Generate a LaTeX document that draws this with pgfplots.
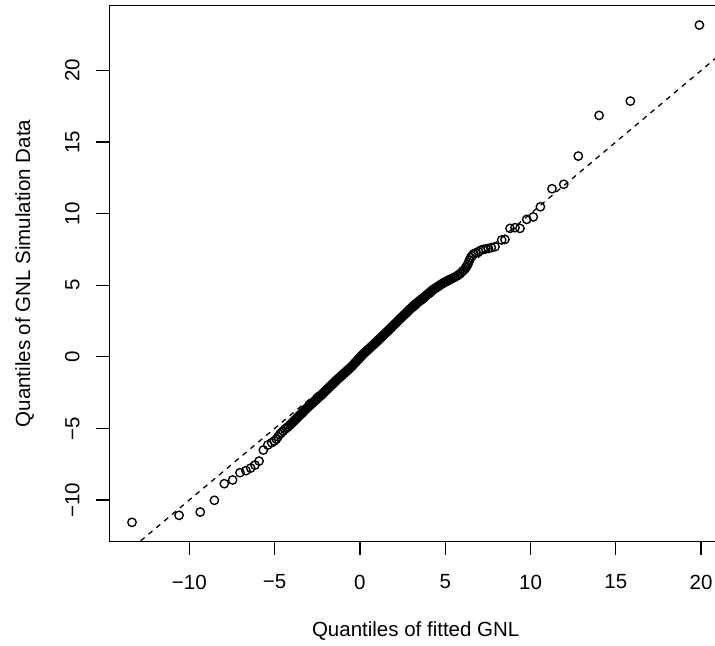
\documentclass[border=0pt]{standalone}
\usepackage{fontspec}
\setmainfont{Liberation Sans}
\usepackage{pgfplots}
\pgfplotsset{compat=1.18}
\begin{document}
\begin{tikzpicture}
\begin{axis}[
  scale only axis,
  width=306.4pt, height=268.2pt,
  xmin=-14.69, xmax=21.23, ymin=-12.91, ymax=24.55,
  xtick={-10,-5,0,5,10,15,20},
  xticklabels={−10,−5,0,5,10,15,20},
  ytick={-10,-5,0,5,10,15,20},
  yticklabels={−10,−5,0,5,10,15,20},
  tick align=outside, tick pos=left,
  major tick length=6.5pt,
  tick style={black, line width=0.64pt},
  axis line style={black, line width=0.64pt},
  ticklabel style={font=\fontsize{10.25}{12}\selectfont, inner sep=0pt},
  xticklabel style={anchor=north},
  yticklabel style={rotate=90, anchor=south},
  xticklabel shift=9.8pt,
  yticklabel shift=8.15pt,
  xlabel={Quantiles of fitted GNL},
  ylabel={Quantiles of GNL Simulation Data},
  label style={font=\fontsize{10.25}{12}\selectfont, inner sep=0pt},
  xlabel style={at={(axis description cs:0.5,-0.1771)}, anchor=base},
  ylabel style={at={(axis description cs:-0.1294,0.5)}, anchor=base},
]
% sample quantiles against fitted quantiles
\addplot[only marks, mark=o, mark size=2.1pt, mark options={black, line width=0.68pt}] table {
x y
-13.36 -11.56
-10.60 -11.07
-9.36 -10.84
-8.53 -10.02
-7.95 -8.86
-7.46 -8.60
-7.03 -8.09
-6.68 -7.95
-6.40 -7.77
-6.15 -7.56
-5.91 -7.28
-5.66 -6.51
-5.40 -6.16
-5.17 -6.00
-5.02 -5.88
-4.90 -5.75
-4.80 -5.58
-4.70 -5.42
-4.60 -5.30
-4.50 -5.18
-4.40 -5.06
-4.30 -4.97
-4.20 -4.87
-4.10 -4.76
-4.04 -4.69
-3.98 -4.62
-3.92 -4.55
-3.86 -4.48
-3.80 -4.41
-3.74 -4.34
-3.68 -4.26
-3.62 -4.19
-3.56 -4.12
-3.50 -4.05
-3.44 -3.98
-3.38 -3.91
-3.32 -3.84
-3.26 -3.76
-3.20 -3.69
-3.14 -3.62
-3.08 -3.55
-3.02 -3.48
-2.96 -3.42
-2.90 -3.35
-2.84 -3.29
-2.78 -3.22
-2.72 -3.16
-2.66 -3.10
-2.60 -3.03
-2.54 -2.97
-2.48 -2.90
-2.42 -2.84
-2.36 -2.77
-2.30 -2.70
-2.24 -2.64
-2.18 -2.57
-2.12 -2.50
-2.06 -2.43
-2.00 -2.36
-1.94 -2.29
-1.88 -2.22
-1.82 -2.15
-1.76 -2.08
-1.70 -2.01
-1.64 -1.95
-1.58 -1.88
-1.52 -1.81
-1.46 -1.74
-1.40 -1.67
-1.34 -1.60
-1.28 -1.53
-1.22 -1.47
-1.16 -1.41
-1.10 -1.34
-1.04 -1.28
-0.98 -1.21
-0.92 -1.15
-0.86 -1.09
-0.80 -1.02
-0.74 -0.96
-0.68 -0.89
-0.62 -0.83
-0.56 -0.76
-0.50 -0.69
-0.44 -0.62
-0.38 -0.54
-0.32 -0.46
-0.26 -0.39
-0.20 -0.31
-0.14 -0.23
-0.08 -0.16
-0.02 -0.08
0.04 0.00
0.10 0.07
0.16 0.15
0.22 0.22
0.28 0.29
0.34 0.35
0.40 0.42
0.46 0.48
0.52 0.55
0.58 0.61
0.64 0.68
0.70 0.75
0.76 0.81
0.82 0.88
0.88 0.94
0.94 1.01
1.00 1.08
1.06 1.15
1.12 1.22
1.18 1.29
1.24 1.35
1.30 1.42
1.36 1.49
1.42 1.56
1.48 1.63
1.54 1.70
1.60 1.76
1.66 1.83
1.72 1.90
1.78 1.97
1.84 2.05
1.90 2.12
1.96 2.19
2.02 2.26
2.08 2.33
2.14 2.40
2.20 2.47
2.26 2.55
2.32 2.62
2.38 2.69
2.44 2.75
2.50 2.82
2.56 2.89
2.62 2.96
2.68 3.03
2.74 3.10
2.80 3.17
2.86 3.24
2.92 3.31
2.98 3.37
3.04 3.44
3.10 3.51
3.16 3.58
3.22 3.64
3.28 3.70
3.34 3.75
3.40 3.81
3.46 3.87
3.52 3.93
3.58 3.99
3.64 4.05
3.70 4.10
3.76 4.16
3.82 4.22
3.88 4.28
3.94 4.34
4.00 4.40
4.06 4.46
4.12 4.52
4.18 4.58
4.24 4.64
4.30 4.70
4.36 4.75
4.42 4.79
4.48 4.84
4.54 4.89
4.60 4.93
4.66 4.98
4.72 5.03
4.78 5.07
4.84 5.12
4.90 5.16
4.96 5.20
5.02 5.24
5.08 5.28
5.14 5.31
5.20 5.35
5.26 5.39
5.35 5.44
5.45 5.50
5.55 5.56
5.65 5.62
5.75 5.70
5.87 5.80
5.95 5.90
6.05 6.02
6.14 6.10
6.20 6.22
6.26 6.33
6.32 6.45
6.37 6.59
6.42 6.75
6.49 6.92
6.57 7.05
6.65 7.18
6.78 7.26
6.94 7.34
7.08 7.44
7.23 7.50
7.38 7.54
7.53 7.57
7.70 7.62
7.92 7.69
8.31 8.16
8.50 8.20
8.80 8.97
9.09 9.02
9.38 8.97
9.78 9.60
10.16 9.77
10.58 10.48
11.26 11.74
11.95 12.05
12.80 14.02
14.02 16.86
15.85 17.86
19.90 23.17
};
% reference line y = x
\addplot[black, line width=0.64pt, dash pattern=on 2.56pt off 2.56pt] coordinates {(-14.69,-14.69) (24.55,24.55)};
\end{axis}
\pgfresetboundingbox
\path[use as bounding box] ([xshift=-54.65pt,yshift=-52.15pt]current axis.south west) rectangle ([xshift=-3.55pt,yshift=2.65pt]current axis.north east);
\end{tikzpicture}
\end{document}
